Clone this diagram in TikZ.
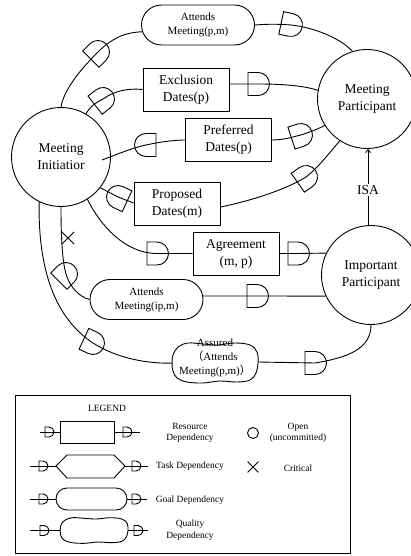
\documentclass[tikz,border=0pt]{standalone}
\usepackage{fontspec}
\setmainfont{Liberation Serif}
\newfontfamily\cjkf{Noto Sans CJK SC}
\usetikzlibrary{shapes.misc,calc,arrows.meta}
\tikzset{
  link/.style={line width=0.9pt},
  actor/.style={circle,draw,line width=0.9pt,minimum size=99pt,inner sep=0pt,align=center,font=\fontsize{13.5}{17}\selectfont},
  resbox/.style={rectangle,draw,line width=0.9pt,minimum width=86pt,minimum height=43pt,inner sep=0pt,align=center,font=\fontsize{13.5}{17}\selectfont},
  goalbox/.style={rounded rectangle,draw,line width=0.9pt,minimum width=113pt,minimum height=40pt,inner sep=0pt,align=center,font=\fontsize{11}{14}\selectfont},
  softbox/.style={inner sep=0pt,minimum width=86pt,minimum height=39pt,align=center,font=\fontsize{11}{14}\selectfont},
  legtext/.style={align=center,inner sep=1pt,font=\fontsize{9.5}{11.5}\selectfont},
  dep/.pic={\draw[line width=0.9pt] (-10,-11.5) -- (0,-11.5) arc[start angle=-90,end angle=90,radius=11.5] -- (-10,11.5) -- cycle;},
  sdep/.pic={\draw[line width=0.9pt] (-4,-5) -- (0,-5) arc[start angle=-90,end angle=90,radius=5] -- (-4,5) -- cycle;},
  crit/.pic={\draw[line width=0.9pt] (-6,-6) -- (6,6) (-6,6) -- (6,-6);},
}
\begin{document}
\begin{tikzpicture}[x=1pt,y=-1pt]
\useasboundingbox (0,0) rectangle (411,556);
% actors
\node[actor] (mi) at (61,157) {Meeting\\Initiatior};
\node[actor] (mp) at (367,99) {Meeting\\Participant};
\node[actor] (ip) at (371,275) {Important\\Participant};
% dependums
\node[goalbox] (am1) at (198,25) {Attends\\Meeting(p,m)};
\node[resbox] (excl) at (186,89.5) {Exclusion\\Dates(p)};
\node[resbox] (pref) at (228.5,140) {Preferred\\Dates(p)};
\node[resbox] (prop) at (177,204) {Proposed\\Dates(m)};
\node[resbox] (agr) at (236,253.5) {Agreement\\(m, p)};
\node[goalbox] (am2) at (146.5,299.5) {Attends\\Meeting(ip,m)};
\node[softbox] (cloud) at (215,358) {Assured\\{\cjkf （}Attends\\Meeting(p,m){\cjkf ）}};
\draw[link, shift={($(cloud.center)+(0,5)$)}] plot[smooth cycle, tension=0.6] coordinates {(-42,-8) (-37,-16) (-27,-20) (-12,-19) (3,-18) (20,-20) (35,-18) (42,-11) (43,0) (41,10) (35,17) (22,19) (5,18) (-12,20) (-28,19) (-38,15) (-42,8) (-43,0)};
\node[font=\fontsize{13.5}{17}\selectfont, inner sep=1pt] (isa) at (368,190) {ISA};
% ISA
\draw[link,-{Straight Barb[length=3pt,width=5pt]}] (isa.north) -- (isa.north |- mp.south);
\draw[link] (isa.south) -- (isa.south |- ip.north);
% C1 attends meeting (p,m)
\coordinate (d1a) at (98,52);
\coordinate (d1b) at (291,25);
\draw[link] (mi.north) .. controls (64,88) and (84,66) .. (d1a) .. controls (112,38) and (126,32) .. (am1.187);
\draw[link] (am1.east) .. controls (268,24) and (278,24) .. (d1b) .. controls (310,27) and (338,36) .. (mp.107);
\pic[rotate=45] at (d1a) {dep};
\pic[rotate=-12] at (d1b) {dep};
% C2 exclusion dates
\coordinate (d2a) at (103,99);
\coordinate (d2b) at (258,84);
\draw[link] (mi.60) .. controls (90,107) and (95,103) .. (d2a) .. controls (114,91) and (128,88) .. (excl.west);
\draw[link] ($(excl.east)+(0,-5.5)$) -- (d2b) .. controls (285,84) and (305,86) .. (mp.170);
\pic[rotate=38] at (d2a) {dep};
\pic at (d2b) {dep};
% C3 preferred dates
\coordinate (c3s) at ($(mi.center)+(41,3)$);
\coordinate (d3a) at (146,145);
\coordinate (d3b) at (301,135);
\draw[link] (c3s) .. controls (118,154) and (132,148) .. (d3a) .. controls (160,142) and (174,140) .. (pref.west);
\draw[link] (pref.east) .. controls (284,140) and (292,137) .. (d3b) .. controls (310,132) and (318,129) .. (mp.212);
\pic[rotate=180] at (d3a) {dep};
\pic[rotate=18] at (d3b) {dep};
% C4 proposed dates
\coordinate (d4a) at (118,197);
\coordinate (d4b) at (306,177);
\draw[link] (mi.322) -- (d4a) -- ($(prop.west)+(0,-1)$);
\draw[link] ($(prop.east)+(0,3)$) .. controls (250,201) and (285,190) .. (d4b) .. controls (318,168) and (330,152) .. (mp.237);
\pic[rotate=155] at (d4a) {dep};
\pic[rotate=35] at (d4b) {dep};
% C5 agreement
\coordinate (d5a) at (157,253.5);
\coordinate (d5b) at (298,253.5);
\draw[link] (mi.302) .. controls (100,225) and (125,253.5) .. (d5a) -- (agr.west);
\draw[link] (agr.east) -- (d5b) -- (ip.154);
\pic at (d5a) {dep};
\pic at (d5b) {dep};
% C6 attends meeting (ip,m)
\coordinate (x6) at (68,238);
\coordinate (d6a) at (66,274);
\coordinate (d6b) at (257,296);
\draw[link] (mi.south) .. controls (61,235) and (62,260) .. (d6a) .. controls (70,288) and (80,297) .. (am2.west);
\draw[link] ($(am2.east)+(-0.5,-3.5)$) -- (d6b) -- (ip.205);
\pic at (x6) {crit};
\pic[rotate=45] at (d6a) {dep};
\pic at (d6b) {dep};
% C7 assured
\coordinate (d7a) at (93,343);
\coordinate (d7b) at (315,363);
\draw[link] (mi.244) .. controls (38,270) and (55,318) .. (d7a) .. controls (118,359) and (150,364) .. ($(cloud.west)+(1,5)$);
\draw[link] ($(cloud.east)+(0,4)$) -- (d7b) .. controls (345,358) and (371,350) .. (ip.south);
\pic[rotate=-25] at (d7a) {dep};
\pic at (d7b) {dep};
% legend
\node[draw, line width=0.8pt, minimum width=335pt, minimum height=158pt, inner sep=0pt] (legend) at (182.5,474) {};
\node[legtext] (legt) at (107,408) {LEGEND};
\node[draw, link, minimum width=54pt, minimum height=22pt, inner sep=0pt] (lr) at (87,432) {};
\coordinate (ltw) at (56,466);
\coordinate (lte) at (125,466);
\draw[link] (ltw) -- (67,455) -- (114,455) -- (lte) -- (114,478) -- (67,478) -- cycle;
\node[rounded rectangle, draw, link, minimum width=71pt, minimum height=22pt, inner sep=0pt] (lg) at (91.5,499) {};
\node[minimum width=68pt, minimum height=25pt, inner sep=0pt] (lq) at (94,530.5) {};
\draw[link, shift={(lq.center)}, xscale=0.79, yscale=0.64] plot[smooth cycle, tension=0.6] coordinates {(-42,-8) (-37,-16) (-27,-20) (-12,-19) (3,-18) (20,-20) (35,-18) (42,-11) (43,0) (41,10) (35,17) (22,19) (5,18) (-12,20) (-28,19) (-38,15) (-42,8) (-43,0)};
\coordinate (lr1) at (40,432);
\coordinate (lr2) at (140,432);
\coordinate (lt1) at (30,466);
\coordinate (lt2) at (148,466);
\coordinate (lg1) at (30,499);
\coordinate (lg2) at (147,499);
\coordinate (lq1) at (30,530.5);
\coordinate (lq2) at (148,530.5);
\draw[link] (lr1) -- (lr.west) (lr.east) -- (lr2);
\draw[link] (lt1) -- (ltw) (lte) -- (lt2);
\draw[link] (lg1) -- (lg.west) (lg.east) -- (lg2);
\draw[link] (lq1) -- (lq.west) (lq.east) -- (lq2);
\pic at (49,432) {sdep};
\pic at (127,432) {sdep};
\pic at (43,466) {sdep};
\pic at (136,466) {sdep};
\pic at (43,499) {sdep};
\pic at (136,499) {sdep};
\pic at (44,530.5) {sdep};
\pic at (138,530.5) {sdep};
\node[circle, draw, link, minimum size=11pt, inner sep=0pt] (lopen) at (253,433) {};
\pic[scale=0.9] at (253,467) {crit};
\node[legtext] (t1) at (190,433) {Resource\\Dependency};
\node[legtext] (t2) at (298,433) {Open\\(uncommitted)};
\node[legtext] (t3) at (190,466) {Task Dependency};
\node[legtext] (t4) at (298,468) {Critical};
\node[legtext] (t5) at (190,500) {Goal Dependency};
\node[legtext] (t6) at (190,530) {Quality\\Dependency};
\end{tikzpicture}
\end{document}
